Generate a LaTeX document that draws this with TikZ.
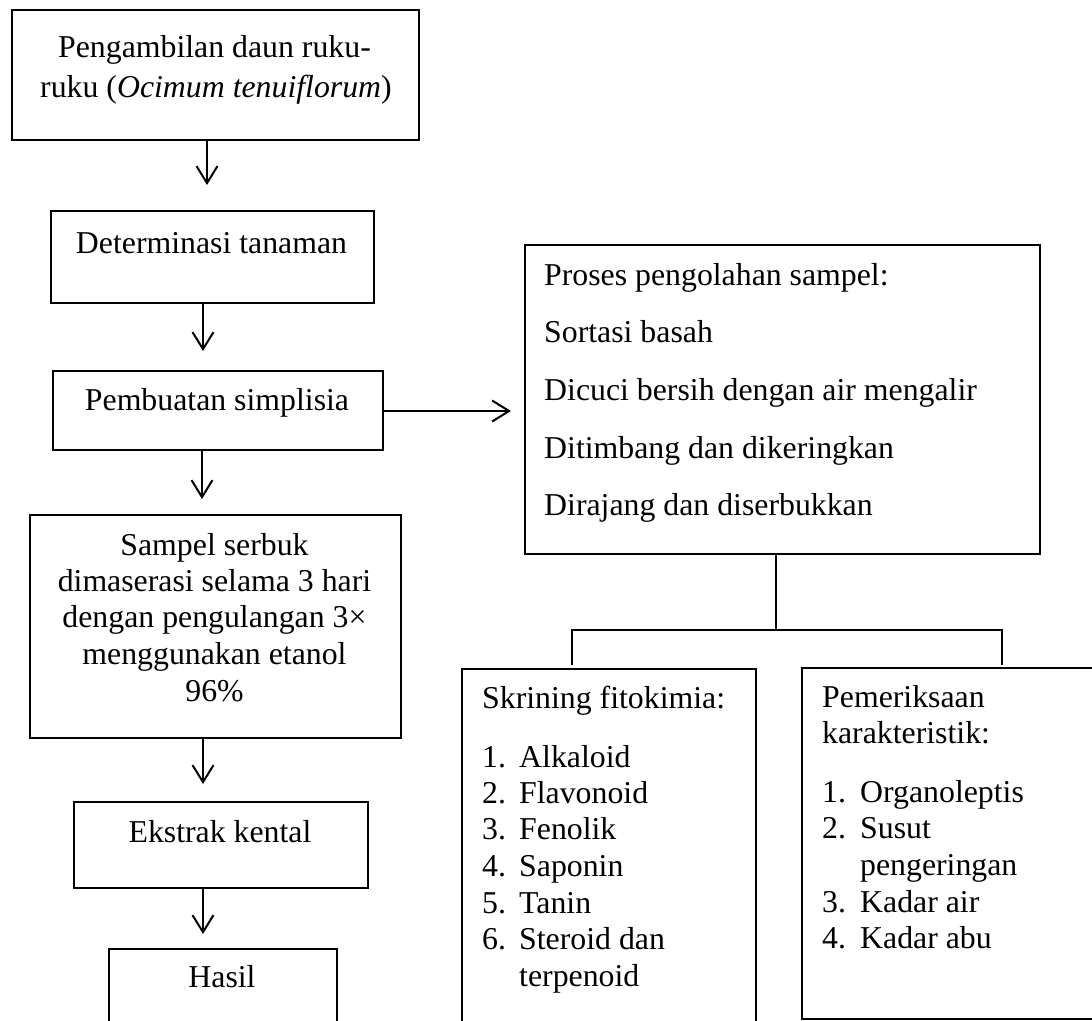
\documentclass[tikz,border=0pt]{standalone}
\usepackage{fontspec}
\setmainfont{Liberation Serif}
\usetikzlibrary{arrows.meta}
\tikzset{
  box/.style={draw, line width=2pt, inner sep=0pt, anchor=north west},
  ln/.style={line width=2pt},
  arr/.style={line width=2pt, -{Straight Barb[length=17pt, width=21pt]}},
  ctext/.style={inner sep=0pt, anchor=base},
  ltext/.style={inner sep=0pt, anchor=base west},
}
\begin{document}
\begin{tikzpicture}[x=1pt, y=-1pt, font=\fontsize{31.8}{36}\selectfont]
\useasboundingbox (0,0) rectangle (1092,1020);
\clip (0,0) rectangle (1092,1020);
\fill[white] (0,0) rectangle (1092,1020);

% left column boxes
\node[box, minimum width=407pt, minimum height=130pt] (b1) at (11,9) {};
\node[box, minimum width=323pt, minimum height=92pt] (b2) at (50,210) {};
\node[box, minimum width=330pt, minimum height=79pt] (b3) at (52,370) {};
\node[box, minimum width=371pt, minimum height=223pt] (b4) at (29,514) {};
\node[box, minimum width=294pt, minimum height=86pt] (b5) at (73,801) {};
\node[box, minimum width=228pt, minimum height=100pt] (b6) at (108,948) {};

% right boxes
\node[box, minimum width=515pt, minimum height=309pt] (r1) at (524,244) {};
\node[box, minimum width=294pt, minimum height=380pt] (s1) at (461,668) {};
\node[box, minimum width=330pt, minimum height=351pt] (p1) at (801,667) {};

% left column texts
\node[ctext] (t1a) at (214.5,57) {Pengambilan daun ruku-};
\node[ctext] (t1b) at (216,97) {ruku (\textit{Ocimum tenuiflorum})};
\node[ctext] (t2) at (211.5,253) {Determinasi tanaman};
\node[ctext] (t3) at (217,410) {Pembuatan simplisia};
\node[ctext] (t4a) at (214.5,555) {Sampel serbuk};
\node[ctext] (t4b) at (214.5,591) {dimaserasi selama 3 hari};
\node[ctext] (t4c) at (214.5,627) {dengan pengulangan 3×};
\node[ctext] (t4d) at (214.5,664) {menggunakan etanol};
\node[ctext] (t4e) at (214.5,701) {96\%};
\node[ctext] (t5) at (220,842) {Ekstrak kental};
\node[ctext] (t6) at (222,987) {Hasil};

% right box texts
\node[ltext] (r1a) at (544,285) {Proses pengolahan sampel:};
\node[ltext] (r1b) at (544,342) {Sortasi basah};
\node[ltext] (r1c) at (544,400) {Dicuci bersih dengan air mengalir};
\node[ltext] (r1d) at (544,458) {Ditimbang dan dikeringkan};
\node[ltext] (r1e) at (544,515) {Dirajang dan diserbukkan};

% skrining
\node[ltext] (s1h) at (482,708) {Skrining fitokimia:};
\node[ltext] (s1n1) at (482,767) {1.};
\node[ltext] (s1i1) at (519,767) {Alkaloid};
\node[ltext] (s1n2) at (482,803) {2.};
\node[ltext] (s1i2) at (519,803) {Flavonoid};
\node[ltext] (s1n3) at (482,839) {3.};
\node[ltext] (s1i3) at (519,839) {Fenolik};
\node[ltext] (s1n4) at (482,876) {4.};
\node[ltext] (s1i4) at (519,876) {Saponin};
\node[ltext] (s1n5) at (482,913) {5.};
\node[ltext] (s1i5) at (519,913) {Tanin};
\node[ltext] (s1n6) at (482,949) {6.};
\node[ltext] (s1i6) at (519,949) {Steroid dan};
\node[ltext] (s1i6b) at (519,986) {terpenoid};

% pemeriksaan
\node[ltext] (p1h) at (822,707) {Pemeriksaan};
\node[ltext] (p1h2) at (822,743) {karakteristik:};
\node[ltext] (p1n1) at (822,802) {1.};
\node[ltext] (p1i1) at (860,802) {Organoleptis};
\node[ltext] (p1n2) at (822,838) {2.};
\node[ltext] (p1i2) at (860,838) {Susut};
\node[ltext] (p1i2b) at (860,875) {pengeringan};
\node[ltext] (p1n3) at (822,912) {3.};
\node[ltext] (p1i3) at (860,912) {Kadar air};
\node[ltext] (p1n4) at (822,948) {4.};
\node[ltext] (p1i4) at (860,948) {Kadar abu};

% arrow end points
\coordinate (e1) at (207,185);
\coordinate (e2) at (203,351);
\coordinate (e3) at (202,499);
\coordinate (e4) at (203,784);
\coordinate (e5) at (203,934);
\coordinate (eh) at (511,411);

\draw[arr] (b1.south -| e1) -- (e1);
\draw[arr] (b2.south -| e2) -- (e2);
\draw[arr] (b3.south -| e3) -- (e3);
\draw[arr] (b4.south -| e4) -- (e4);
\draw[arr] (b5.south -| e5) -- (e5);
\draw[arr] (b3.east |- eh) -- (eh);

% tree
\coordinate (j) at (776,630);
\coordinate (jl) at (572,630);
\coordinate (jr) at (1002,630);
\coordinate (el) at (572,665);
\coordinate (er) at (1002,665);
\draw[ln] (r1.south -| j) -- (j);
\draw[ln] (el) -- (jl) -- (jr) -- (er);
\end{tikzpicture}
\end{document}
